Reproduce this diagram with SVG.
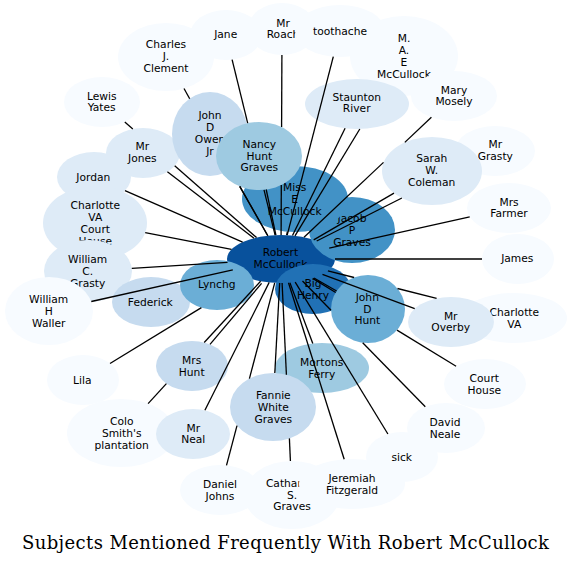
<svg xmlns="http://www.w3.org/2000/svg" width="571" height="565" viewBox="0 0 571 565">
<style>
.c0{fill:#f7fbff}.c1{fill:#deebf7}.c2{fill:#c6dbef}.c3{fill:#9ecae1}.c4{fill:#6baed6}.c5{fill:#4292c6}.c6{fill:#2171b5}.c7{fill:#08519c}
text{font-family:"DejaVu Sans",sans-serif;font-size:10.7px;text-anchor:middle;fill:#000}
.title{font-family:"DejaVu Serif",serif;font-size:18px}
#edges line{stroke:#000;stroke-width:1.3}
</style>
<rect width="571" height="565" fill="#fff"/>
<g id="nodes">
<g id="n-robert"><ellipse class="c7" cx="281" cy="259" rx="54" ry="24"/><text><tspan x="280.5" y="256.2">Robert</tspan><tspan x="280.5" y="268">McCullock</tspan></text></g>
<g id="n-charles"><ellipse class="c0" cx="166" cy="57" rx="48" ry="34"/><text><tspan x="166" y="48.1">Charles</tspan><tspan x="166" y="59.9">J.</tspan><tspan x="166" y="71.7">Clement</tspan></text></g>
<g id="n-jane"><ellipse class="c0" cx="226" cy="35" rx="36" ry="25"/><text x="225.7" y="37.9">Jane</text></g>
<g id="n-mrroach"><ellipse class="c0" cx="282" cy="29" rx="34" ry="26"/><text><tspan x="283" y="26.5">Mr</tspan><tspan x="283" y="38.3">Roach</tspan></text></g>
<g id="n-mae"><ellipse class="c0" cx="404" cy="56" rx="54" ry="40"/><text><tspan x="404" y="42.2">M.</tspan><tspan x="404" y="54">A.</tspan><tspan x="404" y="65.8">E</tspan><tspan x="404" y="77.6">McCullock</tspan></text></g>
<g id="n-toothache"><ellipse class="c0" cx="340" cy="31" rx="45" ry="26"/><text x="340" y="34.9">toothache</text></g>
<g id="n-marymosely"><ellipse class="c0" cx="454" cy="96" rx="43" ry="25"/><text><tspan x="454" y="93.5">Mary</tspan><tspan x="454" y="105.3">Mosely</tspan></text></g>
<g id="n-staunton"><ellipse class="c1" cx="357" cy="104" rx="52" ry="25"/><text><tspan x="356.7" y="100.5">Staunton</tspan><tspan x="356.7" y="112.3">River</tspan></text></g>
<g id="n-lewisyates"><ellipse class="c0" cx="102" cy="102" rx="38" ry="25"/><text><tspan x="101.7" y="99.5">Lewis</tspan><tspan x="101.7" y="111.3">Yates</tspan></text></g>
<g id="n-jordan"><ellipse class="c1" cx="94" cy="177" rx="37" ry="25"/><text x="93.3" y="180.9">Jordan</text></g>
<g id="n-mrjones"><ellipse class="c1" cx="143" cy="153" rx="37" ry="25"/><text><tspan x="142.3" y="150">Mr</tspan><tspan x="142.3" y="161.8">Jones</tspan></text></g>
<g id="n-cvch"><ellipse class="c1" cx="95" cy="223" rx="52" ry="37"/><text><tspan x="95.3" y="209.2">Charlotte</tspan><tspan x="95.3" y="221">VA</tspan><tspan x="95.3" y="232.8">Court</tspan><tspan x="95.3" y="244.6">House</tspan></text></g>
<g id="n-wcgrasty"><ellipse class="c1" cx="88" cy="271" rx="44" ry="31"/><text><tspan x="87.7" y="263.1">William</tspan><tspan x="87.7" y="274.9">C.</tspan><tspan x="87.7" y="286.7">Grasty</tspan></text></g>
<g id="n-waller"><ellipse class="c0" cx="49" cy="311" rx="44" ry="34"/><text><tspan x="48.7" y="303.1">William</tspan><tspan x="48.7" y="314.9">H</tspan><tspan x="48.7" y="326.7">Waller</tspan></text></g>
<g id="n-federick"><ellipse class="c2" cx="151" cy="302" rx="39" ry="25"/><text x="150.3" y="305.9">Federick</text></g>
<g id="n-lynchg"><ellipse class="c4" cx="217" cy="285" rx="37" ry="25"/><text x="216.7" y="288.4">Lynchg</text></g>
<g id="n-jacob"><ellipse class="c5" cx="352" cy="230" rx="43" ry="33"/><text><tspan x="352" y="222.1">Jacob</tspan><tspan x="352" y="233.9">P</tspan><tspan x="352" y="245.7">Graves</tspan></text></g>
<g id="n-misse"><ellipse class="c5" cx="295" cy="199" rx="53" ry="33"/><text><tspan x="294.7" y="191.1">Miss</tspan><tspan x="294.7" y="202.9">E</tspan><tspan x="294.7" y="214.7">McCullock</tspan></text></g>
<g id="n-jdowen"><ellipse class="c2" cx="210" cy="134" rx="38" ry="42"/><text><tspan x="210" y="119.2">John</tspan><tspan x="210" y="131">D</tspan><tspan x="210" y="142.8">Owen</tspan><tspan x="210" y="154.6">Jr</tspan></text></g>
<g id="n-nancy"><ellipse class="c3" cx="259" cy="156" rx="43" ry="34"/><text><tspan x="259.3" y="147.8">Nancy</tspan><tspan x="259.3" y="159.6">Hunt</tspan><tspan x="259.3" y="171.4">Graves</tspan></text></g>
<g id="n-bighenry"><ellipse class="c6" cx="313" cy="289" rx="38" ry="25"/><text><tspan x="313" y="287">Big</tspan><tspan x="313" y="298.8">Henry</tspan></text></g>
<g id="n-jdhunt"><ellipse class="c4" cx="368" cy="309" rx="37" ry="34"/><text><tspan x="367.3" y="300.8">John</tspan><tspan x="367.3" y="312.6">D</tspan><tspan x="367.3" y="324.4">Hunt</tspan></text></g>
<g id="n-mrgrasty"><ellipse class="c0" cx="495" cy="151" rx="40" ry="25"/><text><tspan x="495.3" y="148">Mr</tspan><tspan x="495.3" y="159.8">Grasty</tspan></text></g>
<g id="n-sarah"><ellipse class="c1" cx="432" cy="171" rx="50" ry="34"/><text><tspan x="431.7" y="162.1">Sarah</tspan><tspan x="431.7" y="173.9">W.</tspan><tspan x="431.7" y="185.7">Coleman</tspan></text></g>
<g id="n-mrsfarmer"><ellipse class="c0" cx="509" cy="208" rx="42" ry="25"/><text><tspan x="509" y="205.5">Mrs</tspan><tspan x="509" y="217.3">Farmer</tspan></text></g>
<g id="n-james"><ellipse class="c0" cx="518" cy="259" rx="36" ry="25"/><text x="517.3" y="262.2">James</text></g>
<g id="n-charlotteva"><ellipse class="c0" cx="514" cy="318" rx="53" ry="25"/><text><tspan x="514.3" y="316">Charlotte</tspan><tspan x="514.3" y="327.8">VA</tspan></text></g>
<g id="n-mroverby"><ellipse class="c1" cx="451" cy="322" rx="43" ry="25"/><text><tspan x="450.7" y="319.5">Mr</tspan><tspan x="450.7" y="331.3">Overby</tspan></text></g>
<g id="n-courthouse"><ellipse class="c0" cx="485" cy="384" rx="41" ry="25"/><text><tspan x="484.3" y="382">Court</tspan><tspan x="484.3" y="393.8">House</tspan></text></g>
<g id="n-davidneale"><ellipse class="c0" cx="446" cy="428" rx="39" ry="25"/><text><tspan x="445" y="426.2">David</tspan><tspan x="445" y="438">Neale</tspan></text></g>
<g id="n-sick"><ellipse class="c0" cx="402" cy="457" rx="36" ry="25"/><text x="401.7" y="460.9">sick</text></g>
<g id="n-catharine"><ellipse class="c0" cx="292" cy="495" rx="48" ry="34"/><text><tspan x="292" y="486.8">Catharine</tspan><tspan x="292" y="498.6">S.</tspan><tspan x="292" y="510.4">Graves</tspan></text></g>
<g id="n-jeremiah"><ellipse class="c0" cx="352" cy="484" rx="53" ry="25"/><text><tspan x="352" y="481.8">Jeremiah</tspan><tspan x="352" y="493.6">Fitzgerald</tspan></text></g>
<g id="n-daniel"><ellipse class="c0" cx="220" cy="490" rx="40" ry="25"/><text><tspan x="220" y="488.2">Daniel</tspan><tspan x="220" y="500">Johns</tspan></text></g>
<g id="n-colo"><ellipse class="c0" cx="121" cy="433" rx="54" ry="34"/><text><tspan x="121.7" y="425.1">Colo</tspan><tspan x="121.7" y="436.9">Smith's</tspan><tspan x="121.7" y="448.7">plantation</tspan></text></g>
<g id="n-lila"><ellipse class="c0" cx="83" cy="380" rx="36" ry="25"/><text x="82.3" y="383.9">Lila</text></g>
<g id="n-mrneal"><ellipse class="c1" cx="193" cy="434" rx="37" ry="25"/><text><tspan x="193.3" y="431.5">Mr</tspan><tspan x="193.3" y="443.3">Neal</tspan></text></g>
<g id="n-mrshunt"><ellipse class="c2" cx="192" cy="366" rx="36" ry="25"/><text><tspan x="191.7" y="363.8">Mrs</tspan><tspan x="191.7" y="375.6">Hunt</tspan></text></g>
<g id="n-mortons"><ellipse class="c3" cx="322" cy="368" rx="47" ry="25"/><text><tspan x="321.7" y="366">Mortons</tspan><tspan x="321.7" y="377.8">Ferry</tspan></text></g>
<g id="n-fannie"><ellipse class="c2" cx="273" cy="407" rx="43" ry="34"/><text><tspan x="273.3" y="399.1">Fannie</tspan><tspan x="273.3" y="410.9">White</tspan><tspan x="273.3" y="422.7">Graves</tspan></text></g>
</g>
<g id="edges">
<line x1="267.8" y1="235.7" x2="239.7" y2="186.4"/><line x1="189.7" y1="98.7" x2="184" y2="88.5"/>
<line x1="275.1" y1="235.1" x2="264" y2="189.8"/><line x1="247.7" y1="123.2" x2="232.1" y2="59.6"/>
<line x1="281.1" y1="235" x2="281.3" y2="184.9"/><line x1="281.6" y1="127.1" x2="281.9" y2="55"/>
<line x1="287.2" y1="235.2" x2="333.3" y2="56.7"/>
<line x1="295" y1="235.8" x2="359.8" y2="129"/>
<line x1="292.5" y1="235.5" x2="345.1" y2="128.3"/>
<line x1="304" y1="237.3" x2="383.5" y2="162.4"/><line x1="404.8" y1="142.4" x2="431.4" y2="117.3"/>
<line x1="313.7" y1="239.9" x2="394" y2="193.1"/>
<line x1="316.7" y1="241" x2="401.9" y2="198"/>
<line x1="329.2" y1="248.2" x2="469.7" y2="216.8"/>
<line x1="335" y1="259" x2="482" y2="259"/>
<line x1="327.9" y1="270.9" x2="354.1" y2="277.5"/><line x1="397.5" y1="288.5" x2="436.6" y2="298.4"/>
<line x1="322.5" y1="274.4" x2="414.7" y2="308.6"/>
<line x1="314" y1="278" x2="336.6" y2="291"/>
<line x1="312.7" y1="278.4" x2="335.7" y2="292.5"/><line x1="397" y1="330.1" x2="456.1" y2="366.3"/>
<line x1="302.5" y1="281" x2="331" y2="310.2"/><line x1="362.7" y1="342.7" x2="425.3" y2="406.8"/>
<line x1="295.2" y1="282.2" x2="387.9" y2="434"/>
<line x1="288.5" y1="282.8" x2="344.2" y2="459.3"/>
<line x1="289.9" y1="282.7" x2="312.8" y2="343.5"/>
<line x1="282.1" y1="283" x2="286.4" y2="374.7"/><line x1="289.4" y1="438.4" x2="290.4" y2="461"/>
<line x1="279.7" y1="283" x2="274.8" y2="373"/>
<line x1="274.7" y1="282.8" x2="249.4" y2="378.6"/><line x1="237" y1="425.6" x2="226.5" y2="465.3"/>
<line x1="269.2" y1="282.4" x2="204.9" y2="410.3"/>
<line x1="260.6" y1="281.2" x2="204.2" y2="342.5"/><line x1="166.4" y1="383.6" x2="148.1" y2="403.6"/>
<line x1="261.6" y1="283.3" x2="210" y2="344.4"/>
<line x1="201.4" y1="307.6" x2="110" y2="363.5"/>
<line x1="232.8" y1="269.8" x2="91.3" y2="301.5"/>
<line x1="227.5" y1="262.3" x2="131.8" y2="268.3"/>
<line x1="231.5" y1="249.4" x2="145.2" y2="232.7"/>
<line x1="242.6" y1="242.1" x2="125" y2="190.6"/>
<line x1="254" y1="238.2" x2="167.4" y2="171.8"/>
<line x1="256.6" y1="237.6" x2="174.7" y2="165.8"/><line x1="132.8" y1="129" x2="124.8" y2="122"/>
<line x1="267.8" y1="235.7" x2="239.8" y2="186.4"/>
<line x1="275.9" y1="235.1" x2="266.2" y2="189.5"/>
<line x1="286.6" y1="235.1" x2="287.4" y2="231.7"/>
</g>
<text class="title" x="285.5" y="549.3" textLength="527" lengthAdjust="spacing">Subjects Mentioned Frequently With Robert McCullock</text>
</svg>
